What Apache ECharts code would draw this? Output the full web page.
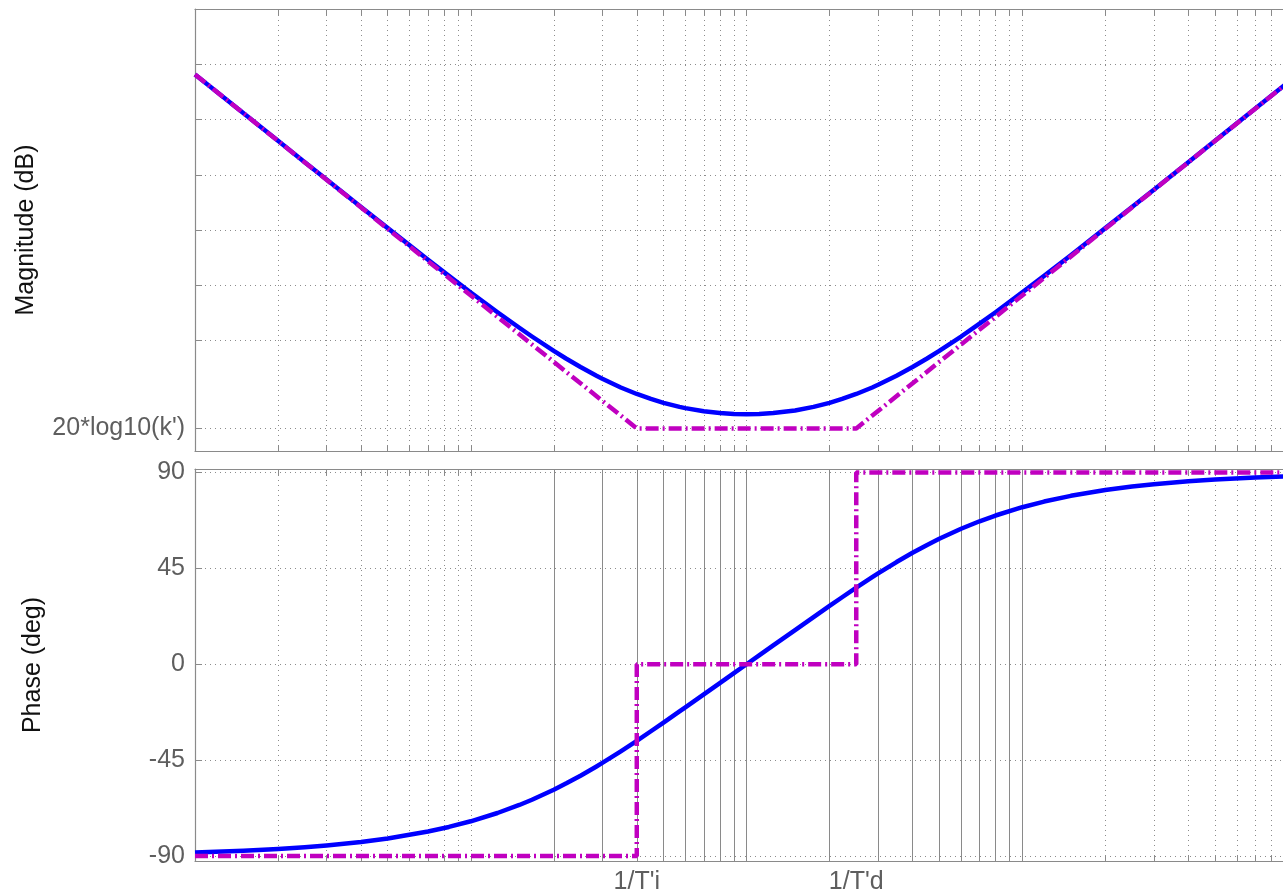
<!DOCTYPE html>
<html>
<head>
<meta charset="utf-8">
<script src="https://cdn.jsdelivr.net/npm/echarts@6/dist/echarts.min.js"></script>
<style>
  html, body { margin: 0; padding: 0; background: #ffffff; }
  #chart { width: 1283px; height: 896px; }
</style>
</head>
<body>
<div id="chart"></div>
<script>
// Bode diagram of the PID controller C(s) = k'(1 + sT'i)(1 + sT'd) / (sT'i)

// Frequency samples (rad/s)
const freq = [0.1, 0.15, 0.2, 0.25, 0.3, 0.4, 0.5, 0.7, 0.833, 1, 1.25, 1.5, 1.667, 2, 2.222,
              2.5, 2.857, 3, 3.5, 4, 4.5, 5, 5.714, 6, 7, 8, 9, 10, 11.11, 12.5, 15, 17.5,
              20, 22.22, 25, 28.57, 30, 35, 40, 45, 50, 60, 70, 80, 100, 120, 150, 200, 250,
              300, 400, 500, 700, 1000];
// Exact magnitude (dB)
const magDb = [24.08, 20.57, 18.07, 16.14, 14.56, 12.08, 10.17, 7.31, 5.85, 4.35, 2.56, 1.15,
               0.36, -0.94, -1.65, -2.40, -3.19, -3.46, -4.25, -4.84, -5.29, -5.64, -6.01,
               -6.12, -6.41, -6.57, -6.65, -6.67, -6.65, -6.57, -6.33, -6.01, -5.64, -5.29,
               -4.84, -4.25, -4.01, -3.19, -2.40, -1.65, -0.94, 0.36, 1.52, 2.56, 4.35, 5.85,
               7.72, 10.17, 12.08, 13.65, 16.14, 18.07, 20.99, 24.08];
// Exact phase (deg)
const phaseDeg = [-88.34, -87.51, -86.68, -85.85, -85.02, -83.37, -81.73, -78.47, -76.32, -73.67,
                  -69.78, -66.01, -63.57, -58.86, -55.87, -52.28, -47.94, -46.29, -40.84, -35.91,
                  -31.43, -27.35, -22.12, -20.19, -14.10, -8.82, -4.16, 0, 4.16, 8.82, 16.03,
                  22.12, 27.35, 31.43, 35.91, 40.84, 42.60, 47.94, 52.28, 55.87, 58.86, 63.57,
                  67.08, 69.78, 73.67, 76.32, 79.01, 81.73, 83.37, 84.47, 85.85, 86.68, 87.63,
                  88.34];

// Asymptotic (straight-line) approximation
const asymMagFreq = [0.1, 4, 25, 1000];
const asymMagDb = [24.08, -7.96, -7.96, 24.08];
const asymPhaseFreq = [0.1, 4, 4, 25, 25, 1000];
const asymPhaseDeg = [-90, -90, 0, 0, 90, 90];

// Axis ticks and labels
const kPrimeDb = -7.96;
const kPrimeLabel = "20*log10(k')";
const magGridDb = [0, 5, 10, 15, 20, 25, 30];
const phaseTicks = [-90, -45, 0, 45, 90];
const cornerFreq = [4, 25];
const cornerLabels = ["1/T'i", "1/T'd"];
const decades = [0.1, 1, 10, 100];
// reference lines drawn solid in the phase plot
const phaseRefFreq = [2, 3, 4, 5, 6, 7, 8, 9, 10, 20, 30, 40, 50, 60, 70, 80, 90, 100];

// log grid positions: 1..9 x each decade
const logGridFreq = [];
decades.forEach(d => { for (let m = 1; m <= 9; m++) logGridFreq.push(+(m * d).toPrecision(3)); });

const FREQ_MIN = 0.1;
const FREQ_MAX = 882;

const FONT = '"Liberation Sans", Arial, Helvetica, sans-serif';
const AXIS_GRAY = '#8a8a8a';
const GRID_GRAY = '#8c8c8c';
const LABEL_GRAY = '#5e5e5e';
const BLUE = '#0000ff';
const MAGENTA = '#c000c0';
const DASH_DOT = [13, 4, 2, 4];

const dotted = { color: GRID_GRAY, width: 1, type: [1, 4] };
const solid = { color: '#8a8a8a', width: 1, type: 'solid' };

function gridLines(items) {
  return {
    silent: true, symbol: 'none', z: 1, animation: false,
    label: { show: false }, emphasis: { disabled: true },
    data: items
  };
}

function cornerLabel(v) {
  let best = 0;
  cornerFreq.forEach((c, i) => {
    if (Math.abs(Math.log10(c / v)) < Math.abs(Math.log10(cornerFreq[best] / v))) best = i;
  });
  return cornerLabels[best];
}

function xAxisFor(gridIndex, position, withLabels) {
  return {
    type: 'log', logBase: 10, gridIndex: gridIndex, position: position,
    min: FREQ_MIN, max: FREQ_MAX,
    axisLine: { show: true, onZero: false, lineStyle: { color: AXIS_GRAY, width: 1.2 } },
    axisTick: { show: true, inside: true, length: 6, customValues: logGridFreq,
                lineStyle: { color: AXIS_GRAY, width: 1 } },
    minorTick: { show: false },
    splitLine: { show: false },
    axisLabel: withLabels ? {
      show: true, customValues: cornerFreq, margin: 9,
      color: LABEL_GRAY, fontFamily: FONT, fontSize: 25,
      formatter: cornerLabel
    } : { show: false }
  };
}

const option = {
  animation: false,
  backgroundColor: '#ffffff',
  grid: [
    { left: 195, top: 9, right: 0, height: 442 },
    { left: 195, top: 469, right: 0, height: 392 }
  ],
  xAxis: [
    xAxisFor(0, 'bottom', false),
    xAxisFor(0, 'top', false),
    xAxisFor(1, 'bottom', true),
    xAxisFor(1, 'top', false)
  ],
  yAxis: [
    {
      type: 'value', gridIndex: 0, min: -10, max: 30, position: 'left',
      name: 'Magnitude (dB)', nameLocation: 'middle', nameGap: 156,
      nameTextStyle: { color: '#111111', fontFamily: FONT, fontSize: 25 },
      axisLine: { show: true, lineStyle: { color: AXIS_GRAY, width: 1.2 } },
      axisTick: { show: true, inside: true, length: 7, customValues: [kPrimeDb].concat(magGridDb),
                  lineStyle: { color: AXIS_GRAY } },
      axisLabel: { customValues: [kPrimeDb], formatter: () => kPrimeLabel, margin: 10,
                   color: LABEL_GRAY, fontFamily: FONT, fontSize: 25 },
      splitLine: { show: false }
    },
    {
      type: 'value', gridIndex: 1, min: -92.3, max: 91.6, position: 'left',
      name: 'Phase (deg)', nameLocation: 'middle', nameGap: 149,
      nameTextStyle: { color: '#111111', fontFamily: FONT, fontSize: 25 },
      axisLine: { show: true, lineStyle: { color: AXIS_GRAY, width: 1.2 } },
      axisTick: { show: true, inside: true, length: 7, customValues: phaseTicks,
                  lineStyle: { color: AXIS_GRAY } },
      axisLabel: { customValues: phaseTicks, margin: 10,
                   color: LABEL_GRAY, fontFamily: FONT, fontSize: 25 },
      splitLine: { show: false }
    }
  ],
  series: [
    // magnitude grid
    {
      type: 'line', xAxisIndex: 0, yAxisIndex: 0, data: [], silent: true, z: 1,
      markLine: gridLines(
        logGridFreq.map(f => ({ xAxis: f, lineStyle: dotted }))
          .concat([kPrimeDb].concat(magGridDb).map(v => ({ yAxis: v, lineStyle: dotted })))
      )
    },
    {
      name: 'Magnitude', type: 'line', xAxisIndex: 0, yAxisIndex: 0, z: 3,
      data: freq.map((f, i) => [f, magDb[i]]),
      showSymbol: false, smooth: false,
      lineStyle: { color: BLUE, width: 4.5, join: 'round' }
    },
    {
      name: 'Magnitude asymptote', type: 'line', xAxisIndex: 0, yAxisIndex: 0, z: 4,
      data: asymMagFreq.map((f, i) => [f, asymMagDb[i]]),
      showSymbol: false,
      lineStyle: { color: MAGENTA, width: 4.5, type: DASH_DOT, cap: 'butt' }
    },
    // phase grid
    {
      type: 'line', xAxisIndex: 2, yAxisIndex: 1, data: [], silent: true, z: 1,
      markLine: gridLines(
        logGridFreq.filter(f => phaseRefFreq.indexOf(f) < 0).map(f => ({ xAxis: f, lineStyle: dotted }))
          .concat(phaseRefFreq.map(f => ({ xAxis: f, lineStyle: solid })))
          .concat(phaseTicks.map(v => ({ yAxis: v, lineStyle: dotted })))
      )
    },
    {
      name: 'Phase', type: 'line', xAxisIndex: 2, yAxisIndex: 1, z: 3,
      data: freq.map((f, i) => [f, phaseDeg[i]]),
      showSymbol: false, smooth: false,
      lineStyle: { color: BLUE, width: 4.5, join: 'round' }
    },
    {
      name: 'Phase asymptote', type: 'line', xAxisIndex: 2, yAxisIndex: 1, z: 4,
      data: asymPhaseFreq.map((f, i) => [f, asymPhaseDeg[i]]),
      showSymbol: false,
      lineStyle: { color: MAGENTA, width: 4.5, type: DASH_DOT, cap: 'butt' }
    }
  ]
};

const chart = echarts.init(document.getElementById('chart'), null, { renderer: 'canvas' });
chart.setOption(option);
</script>
</body>
</html>
